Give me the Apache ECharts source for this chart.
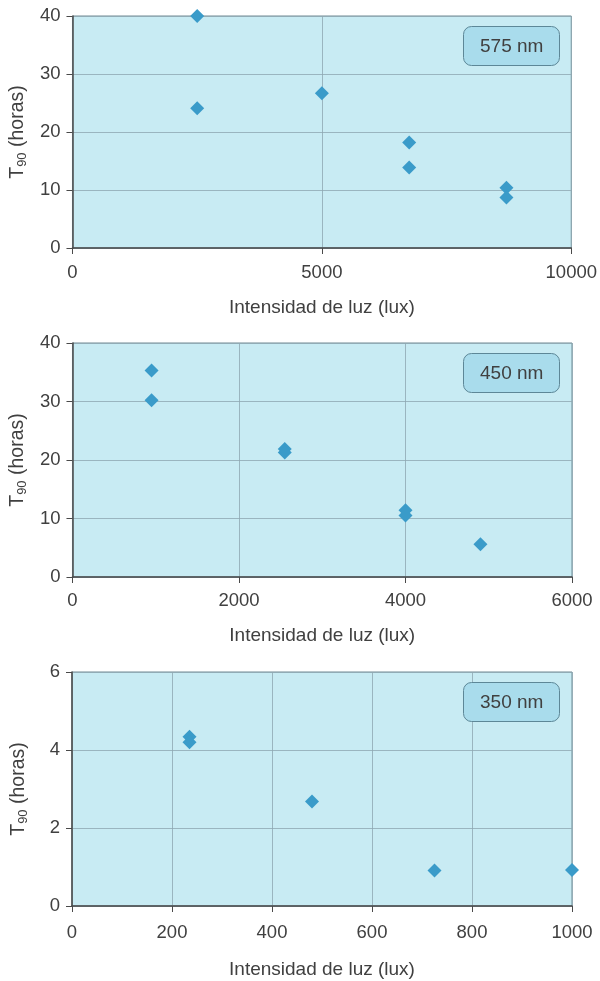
<!DOCTYPE html>
<html lang="es">
<head>
<meta charset="UTF-8">
<title>T90 vs intensidad de luz</title>
<style type="text/css">
  html, body { margin: 0; padding: 0; background: #ffffff; }
  #main { width: 600px; height: 981px; }
</style>
<script type="text/javascript" src="https://cdn.jsdelivr.net/npm/echarts@6/dist/echarts.min.js"></script>
</head>
<body>
<div id="main"></div>
<script type="text/javascript">
// datos: [lux, horas]
var panelLabels = ['575 nm', '450 nm', '350 nm'];
var xMax = [10000, 6000, 1000];
var xStep = [5000, 2000, 200];
var yMax = [40, 40, 6];
var yStep = [10, 10, 2];

var data575 = [
  [2500, 40], [2500, 24.1], [5000, 26.7],
  [6750, 18.2], [6750, 13.9], [8700, 10.4], [8700, 8.7]
];
var data450 = [
  [950, 35.3], [950, 30.2], [2550, 21.9], [2550, 21.3],
  [4000, 11.4], [4000, 10.5], [4900, 5.6]
];
var data350 = [
  [235, 4.34], [235, 4.2], [480, 2.68], [725, 0.91], [1000, 0.92]
];

var chart = echarts.init(document.getElementById('main'));

var gridTops = [16, 343, 672];
var gridH = [232, 234, 234];
var labelMargin = [15, 14, 17];
var nameGaps = [50, 49, 54];
var font = 'Liberation Sans, Arial, sans-serif';
var textColor = '#404040';

var grids = [], xAxes = [], yAxes = [], series = [], titles = [];
var allData = [data575, data450, data350];

for (var i = 0; i < 3; i++) {
  grids.push({
    left: 72, width: 500, top: gridTops[i], height: gridH[i],
    show: true, backgroundColor: '#c8ebf3',
    borderColor: '#6f8a94', borderWidth: 1
  });
  xAxes.push({
    gridIndex: i, type: 'value', min: 0, max: xMax[i], interval: xStep[i],
    name: 'Intensidad de luz (lux)', nameLocation: 'middle', nameGap: nameGaps[i],
    nameTextStyle: { fontFamily: font, fontSize: 19, color: textColor },
    axisLine: { show: true, lineStyle: { color: '#4a4a4a', width: 1.5 } },
    axisTick: { show: true, length: 6, lineStyle: { color: '#4a4a4a' } },
    axisLabel: {
      fontFamily: font, fontSize: 18.5, color: textColor, margin: labelMargin[i],
      formatter: function (v) { return String(v); }
    },
    splitLine: { show: true, lineStyle: { color: '#8ea7b1', width: 0.8 } }
  });
  yAxes.push({
    gridIndex: i, type: 'value', min: 0, max: yMax[i], interval: yStep[i],
    name: 'T{sub|90} (horas)', nameLocation: 'middle', nameGap: 42,
    nameTextStyle: {
      fontFamily: font, fontSize: 19.5, color: textColor,
      rich: { sub: { fontFamily: font, fontSize: 13, color: textColor, padding: [9, 0, 0, 0] } }
    },
    axisLine: { show: true, lineStyle: { color: '#4a4a4a', width: 1.5 } },
    axisTick: { show: true, length: 6, lineStyle: { color: '#4a4a4a' } },
    axisLabel: { fontFamily: font, fontSize: 18.5, color: textColor, margin: 12 },
    splitLine: { show: true, lineStyle: { color: '#8ea7b1', width: 0.8 } }
  });
  series.push({
    type: 'scatter', xAxisIndex: i, yAxisIndex: i,
    symbol: 'diamond', symbolSize: [14, 14],
    itemStyle: { color: '#3a9bc9', opacity: 1 },
    data: allData[i]
  });
  titles.push({
    text: panelLabels[i],
    left: 463, top: gridTops[i] + 10,
    padding: [11, 16, 10, 17],
    backgroundColor: '#a9dcec',
    borderColor: '#5d8797', borderWidth: 1, borderRadius: 8,
    textStyle: { fontFamily: font, fontSize: 19, fontWeight: 'normal', color: textColor }
  });
}

chart.setOption({
  animation: false,
  title: titles,
  grid: grids,
  xAxis: xAxes,
  yAxis: yAxes,
  series: series
});
</script>
</body>
</html>
